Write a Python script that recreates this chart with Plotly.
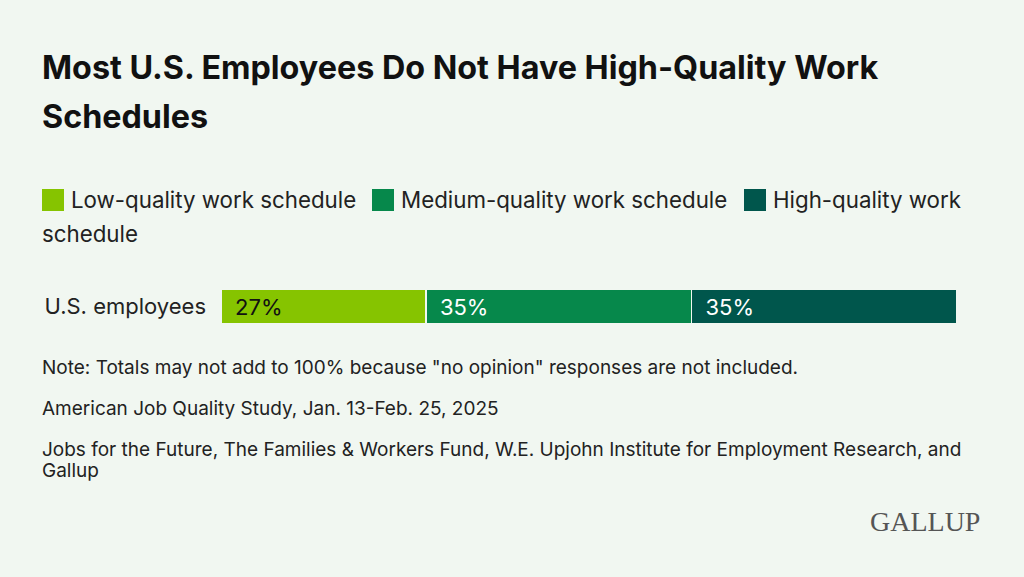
import plotly.graph_objects as go

categories = ["Low-quality work schedule", "Medium-quality work schedule", "High-quality work schedule"]
values = [27, 35, 35]
colors = ["#86c400", "#06884b", "#00564c"]
text_colors = ["#111111", "#ffffff", "#ffffff"]
row_label = "U.S. employees"

W, H = 1024, 577
L, R, T, B = 221, 67, 289, 253
font = "Inter"


def px(x, y):
    # pixel -> paper coords
    return (x - L) / (W - L - R), 1 - (y - T) / (H - T - B)


fig = go.Figure()
for cat, v, c, tc in zip(categories, values, colors, text_colors):
    fig.add_trace(go.Bar(
        x=[v], y=[row_label], orientation="h", name=cat,
        marker=dict(color=c, line=dict(color="#f1f7f1", width=1.5)),
        text=[f"\u2002{v}%"], textposition="inside", insidetextanchor="start",
        textfont=dict(color=tc, size=22, family=font),
        width=1.0, showlegend=False,
    ))

ann = []
shapes = []


def text(x, y, s, size, color="#222222", bold=False):
    xp, yp = px(x, y)
    ann.append(dict(x=xp, y=yp, xref="paper", yref="paper", text=f"<b>{s}</b>" if bold else s,
                    showarrow=False, xanchor="left", yanchor="middle", align="left",
                    font=dict(size=size, color=color, family=font)))


text(40, 67, "Most U.S. Employees Do Not Have High-Quality Work", 32.3, "#111111", True)
text(40, 116, "Schedules", 32.3, "#111111", True)

legend_x = [42, 372, 744]
for lx, cat, c in zip(legend_x, categories, colors):
    x0, y0 = px(lx, 189)
    x1, y1 = px(lx + 22, 211)
    shapes.append(dict(type="rect", xref="paper", yref="paper", x0=x0, x1=x1, y0=y1, y1=y0,
                       fillcolor=c, line=dict(width=0)))
label = dict(zip(categories, ["Low-quality work schedule", "Medium-quality work schedule", "High-quality work"]))
for lx, cat in zip(legend_x, categories):
    text(lx + 27, 199, label[cat], 22.3)
text(40, 233, "schedule", 22.3)

text(40, 367, 'Note: Totals may not add to 100% because "no opinion" responses are not included.', 19)
text(40, 408, "American Job Quality Study, Jan. 13-Feb. 25, 2025", 19)
text(40, 449, "Jobs for the Future, The Families &amp; Workers Fund, W.E. Upjohn Institute for Employment Research, and", 19)
text(40, 470, "Gallup", 19)

gx, gy = px(982, 521)
ann.append(dict(x=gx, y=gy, xref="paper", yref="paper", text="GALLUP", showarrow=False,
                xanchor="right", yanchor="middle",
                font=dict(size=28, color="#555555", family="Liberation Serif")))

fig.update_layout(
    barmode="stack", width=W, height=H,
    margin=dict(l=L, r=R, t=T, b=B),
    paper_bgcolor="#f1f7f1", plot_bgcolor="#f1f7f1",
    xaxis=dict(range=[0, 97], visible=False),
    yaxis=dict(showgrid=False, ticks="", ticklabelstandoff=14,
               tickfont=dict(size=22, color="#222222", family=font)),
    annotations=ann, shapes=shapes,
)
fig.write_html("out.html", config={"displayModeBar": False},
               post_script="document.body.style.margin='0';")
